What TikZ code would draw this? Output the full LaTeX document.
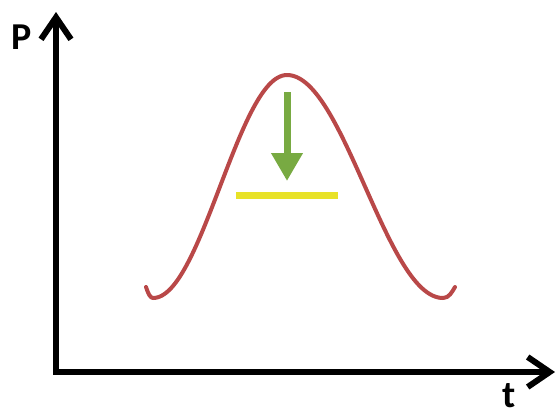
\documentclass[tikz,border=0pt]{standalone}
\usepackage{fontspec}
\setmainfont{Carlito}
\usetikzlibrary{arrows.meta}
\definecolor{curvered}{RGB}{185,72,72}
\definecolor{arrowgreen}{RGB}{120,170,66}
\definecolor{lineyellow}{RGB}{232,226,40}
\tikzset{
  axis/.style={line width=6pt, line join=miter, {Straight Barb[length=22pt, width=30pt, line width=6pt]}-{Straight Barb[length=22pt, width=30pt, line width=6pt]}},
  lbl/.style={font=\fontsize{38}{40}\selectfont\bfseries, inner sep=0pt},
  bell/.style={curvered, line width=4pt, line cap=round, line join=round},
  down/.style={arrowgreen, line width=7pt, -{Triangle[length=28pt, width=30pt]}},
  level/.style={lineyellow, line width=7pt}
}
\begin{document}
\begin{tikzpicture}[x=1pt, y=-1pt]
\useasboundingbox (0,0) rectangle (556,416);
\fill[white] (0,0) rectangle (556,416);
\draw[axis] (56,12) -- (56,372) -- (555,372);
\node[lbl] (P) at (22,37) {P};
\node[lbl] (t) at (509,396) {t};
\draw[bell] (146,287) .. controls (148,293) and (150,298) .. (153,298)
  -- plot[domain=153:287, samples=60, variable=\x] (\x, {298 - 111.5*(1 - cos((\x-153)*1.343284))})
  -- plot[domain=287:443, samples=60, variable=\x] (\x, {298 - 111.5*(1 + cos((\x-287)*1.153846))})
  .. controls (449,298) and (452,292) .. (455,287);
\coordinate (gtop) at (287,92);
\coordinate (gtip) at (287,181);
\draw[down] (gtop) -- (gtip);
\coordinate (yl) at (236,195);
\coordinate (yr) at (338,195);
\draw[level] (yl) -- (yr);
\end{tikzpicture}
\end{document}
